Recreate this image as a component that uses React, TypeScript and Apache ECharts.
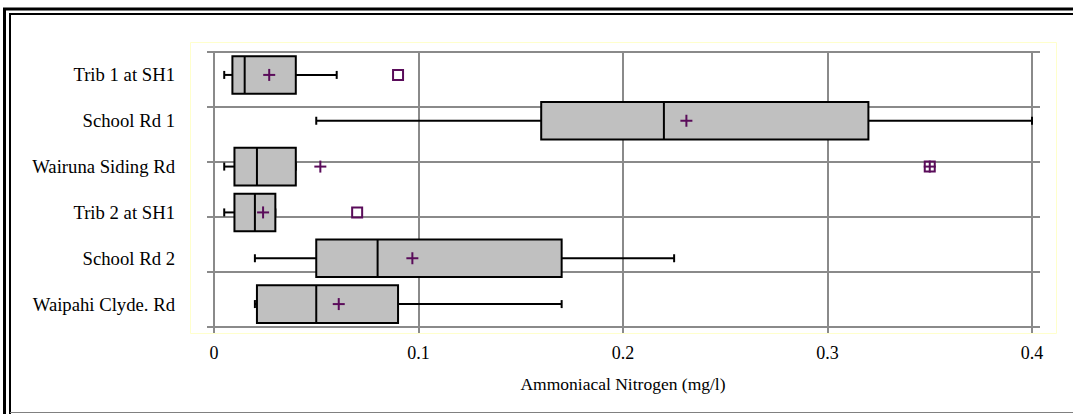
import React, { useEffect, useRef } from "react";
import * as echarts from "echarts";

const categories = [
  "Trib 1 at SH1",
  "School Rd 1",
  "Wairuna Siding Rd",
  "Trib 2 at SH1",
  "School Rd 2",
  "Waipahi Clyde. Rd",
];
const whiskerLow = [0.005, 0.05, 0.005, 0.005, 0.02, 0.02];
const quartile1 = [0.009, 0.16, 0.01, 0.01, 0.05, 0.021];
const medians = [0.015, 0.22, 0.021, 0.02, 0.08, 0.05];
const quartile3 = [0.04, 0.32, 0.04, 0.03, 0.17, 0.09];
const whiskerHigh = [0.06, 0.4, 0.04, 0.03, 0.225, 0.17];
const means = [0.027, 0.231, 0.052, 0.024, 0.097, 0.061];
// [category index, value, crossed (1 = square with a cross)]
const outliers = [
  [0, 0.09, 0],
  [2, 0.35, 1],
  [3, 0.07, 0],
];
const xTicks = [0, 0.1, 0.2, 0.3, 0.4];
const xTitle = "Ammoniacal Nitrogen (mg/l)";

const FONT = "'Liberation Serif', 'Times New Roman', serif";
const GRID = "#8a8a8a";
const PURPLE = "#5a0c5a";

export default function App() {
  const ref = useRef<HTMLDivElement>(null);
  useEffect(() => {
    if (!ref.current) return;
    const chart = echarts.init(ref.current, null, { renderer: "svg" });
    const boxData = categories.map((_, i) => [
      i,
      whiskerLow[i],
      quartile1[i],
      medians[i],
      quartile3[i],
      whiskerHigh[i],
    ]);
    const meanData = categories.map((_, i) => [means[i], i]);
    const outData = outliers.map((o) => [o[1], o[0], o[2]]);
    const hiddenValueY = {
      type: "value",
      min: 0,
      max: 5,
      interval: 1,
      axisLabel: { show: false },
      axisLine: { show: false },
    } as any;
    const option: any = {
      animation: false,
      backgroundColor: "#ffffff",
      grid: { left: 214, right: 41, top: 52, bottom: 87, containLabel: false },
      xAxis: [
        {
          type: "value",
          min: xTicks[0],
          max: xTicks[xTicks.length - 1],
          interval: 0.1,
          position: "bottom",
          name: xTitle,
          nameLocation: "middle",
          nameGap: 48,
          nameTextStyle: { fontFamily: FONT, fontSize: 17.5, color: "#000" },
          axisLine: { show: false },
          axisTick: { show: true, length: 6, lineStyle: { color: GRID, width: 2 } },
          axisLabel: {
            fontFamily: FONT,
            fontSize: 18,
            color: "#000",
            margin: 17,
            formatter: (v: number) => String(parseFloat(v.toFixed(2))),
          },
          splitLine: { show: true, lineStyle: { color: GRID, width: 2 } },
        },
        {
          type: "value",
          min: xTicks[0],
          max: xTicks[xTicks.length - 1],
          interval: 0.1,
          position: "top",
          axisLine: { show: false },
          axisTick: { show: true, length: 6, lineStyle: { color: GRID, width: 2 } },
          axisLabel: { show: false },
          splitLine: { show: false },
        },
      ],
      yAxis: [
        {
          type: "category",
          data: categories,
          inverse: true,
          position: "left",
          axisLine: { show: false },
          axisTick: { show: false },
          splitLine: { show: false },
          axisLabel: {
            fontFamily: FONT,
            fontSize: 18.7,
            color: "#000",
            margin: 39,
          },
        },
        {
          ...hiddenValueY,
          position: "left",
          axisTick: { show: true, length: 7, lineStyle: { color: GRID, width: 2 } },
          splitLine: { show: true, lineStyle: { color: GRID, width: 2 } },
        },
        {
          ...hiddenValueY,
          position: "right",
          axisTick: { show: true, length: 8, lineStyle: { color: GRID, width: 2 } },
          splitLine: { show: false },
        },
      ],
      graphic: [
        {
          type: "rect",
          silent: true,
          z: -1,
          shape: { x: 190.5, y: 42.5, width: 866, height: 291 },
          style: { fill: "none", stroke: "#ffffcc", lineWidth: 1 },
        },
        {
          type: "line",
          silent: true,
          shape: { x1: 4.5, y1: 8.5, x2: 4.5, y2: 414 },
          style: { stroke: "#000", lineWidth: 3 },
        },
        {
          type: "line",
          silent: true,
          shape: { x1: 3, y1: 9, x2: 1073, y2: 9 },
          style: { stroke: "#000", lineWidth: 3 },
        },
        {
          type: "line",
          silent: true,
          shape: { x1: 10, y1: 14, x2: 10, y2: 414 },
          style: { stroke: "#000", lineWidth: 2 },
        },
        {
          type: "line",
          silent: true,
          shape: { x1: 9, y1: 14, x2: 1073, y2: 14 },
          style: { stroke: "#000", lineWidth: 2 },
        },
        {
          type: "line",
          silent: true,
          shape: { x1: 10, y1: 412.5, x2: 1073, y2: 412.5 },
          style: { stroke: "#808080", lineWidth: 1 },
        },
      ],
      series: [
        {
          type: "custom",
          xAxisIndex: 0,
          yAxisIndex: 0,
          data: boxData,
          encode: { x: [1, 2, 3, 4, 5], y: 0 },
          renderItem: (params: any, api: any) => {
            const i = api.value(0);
            const yc = api.coord([0, i])[1];
            const band = api.size([0, 1])[1];
            const h = band * 0.82;
            const xLo = api.coord([api.value(1), i])[0];
            const xQ1 = api.coord([api.value(2), i])[0];
            const xMed = api.coord([api.value(3), i])[0];
            const xQ3 = api.coord([api.value(4), i])[0];
            const xHi = api.coord([api.value(5), i])[0];
            const ls = { stroke: "#000", lineWidth: 2 };
            const cap = 4;
            return {
              type: "group",
              children: [
                { type: "line", shape: { x1: xLo, y1: yc, x2: xQ1, y2: yc }, style: ls },
                { type: "line", shape: { x1: xQ3, y1: yc, x2: xHi, y2: yc }, style: ls },
                { type: "line", shape: { x1: xLo, y1: yc - cap, x2: xLo, y2: yc + cap }, style: ls },
                { type: "line", shape: { x1: xHi, y1: yc - cap, x2: xHi, y2: yc + cap }, style: ls },
                {
                  type: "rect",
                  shape: { x: xQ1, y: yc - h / 2, width: xQ3 - xQ1, height: h },
                  style: { fill: "#c0c0c0", stroke: "#000", lineWidth: 2 },
                },
                {
                  type: "line",
                  shape: { x1: xMed, y1: yc - h / 2, x2: xMed, y2: yc + h / 2 },
                  style: ls,
                },
              ],
            };
          },
          z: 3,
        },
        {
          type: "custom",
          xAxisIndex: 0,
          yAxisIndex: 0,
          data: meanData,
          encode: { x: 0, y: 1 },
          renderItem: (params: any, api: any) => {
            const p = api.coord([api.value(0), api.value(1)]);
            const a = 6;
            const st = { stroke: PURPLE, lineWidth: 2 };
            return {
              type: "group",
              children: [
                { type: "line", shape: { x1: p[0] - a, y1: p[1], x2: p[0] + a, y2: p[1] }, style: st },
                { type: "line", shape: { x1: p[0], y1: p[1] - a, x2: p[0], y2: p[1] + a }, style: st },
              ],
            };
          },
          z: 4,
        },
        {
          type: "custom",
          xAxisIndex: 0,
          yAxisIndex: 0,
          data: outData,
          encode: { x: 0, y: 1 },
          renderItem: (params: any, api: any) => {
            const p = api.coord([api.value(0), api.value(1)]);
            const s = 5;
            const st = { stroke: PURPLE, lineWidth: 2 };
            const children: any[] = [
              {
                type: "rect",
                shape: { x: p[0] - s, y: p[1] - s, width: 2 * s, height: 2 * s },
                style: { fill: "none", stroke: PURPLE, lineWidth: 2 },
              },
            ];
            if (api.value(2) === 1) {
              children.push(
                { type: "line", shape: { x1: p[0] - s - 1, y1: p[1], x2: p[0] + s + 1, y2: p[1] }, style: st },
                { type: "line", shape: { x1: p[0], y1: p[1] - s - 1, x2: p[0], y2: p[1] + s + 1 }, style: st }
              );
            }
            return { type: "group", children };
          },
          z: 4,
        },
      ],
    };
    chart.setOption(option);
    return () => chart.dispose();
  }, []);
  return (
    <div
      ref={ref}
      style={{ position: "fixed", left: 0, top: 0, width: 1073, height: 414, background: "#fff" }}
    />
  );
}
